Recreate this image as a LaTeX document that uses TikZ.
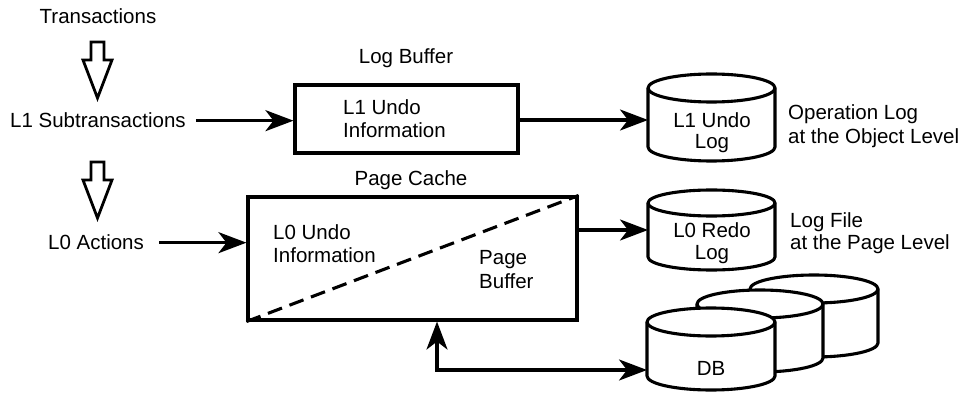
\documentclass[tikz,border=0pt]{standalone}
\usepackage{fontspec}
\setmainfont{Liberation Sans}
\usetikzlibrary{arrows.meta}
\newcommand\mycyl[5]{%
  \filldraw[cylfill] ({#1-#4},#2) -- ({#1-#4},#3) arc[start angle=180,end angle=360,x radius=#4,y radius=#5] -- ({#1+#4},#2) arc[start angle=0,end angle=180,x radius=#4,y radius=#5] -- cycle;
  \draw[lw] ({#1-#4},#2) arc[start angle=180,end angle=360,x radius=#4,y radius=#5];
}
\begin{document}
\begin{tikzpicture}[x=1pt,y=1pt,
  lw/.style={line width=3.1pt},
  txt/.style={font=\fontsize{20.5}{24}\selectfont, inner sep=0pt},
  box/.style={draw, line width=3.1pt, inner sep=0pt},
  tip/.tip={Stealth[length=28pt,width=21pt,inset=8pt]},
  conn/.style={line width=3.1pt, -tip},
  cylfill/.style={draw, line width=3.1pt, fill=white, line join=round},
  hollow/.style={draw, line width=2.8pt, line join=miter}
]
\useasboundingbox (0,0) rectangle (974,-395);

% left column
\node[txt, anchor=base] (trans) at (98,-24) {Transactions};
\node[txt, anchor=base west] (l1sub) at (10,-128) {L1 Subtransactions};
\node[txt, anchor=base west] (l0act) at (48,-250) {L0 Actions};
\draw[hollow] (91,-42) -- (104,-42) -- (104,-60) -- (112,-60) -- (97.5,-98) -- (83,-60) -- (91,-60) -- cycle;
\draw[hollow] (91,-162) -- (104,-162) -- (104,-180) -- (112,-180) -- (97.5,-218) -- (83,-180) -- (91,-180) -- cycle;

% log buffer
\node[txt, anchor=base] (lblogbuf) at (406,-64) {Log Buffer};
\node[box, minimum width=223pt, minimum height=68pt] (logbuf) at (406.5,-119) {};
\node[txt, anchor=base west] (l1ua) at (343,-115) {L1 Undo};
\node[txt, anchor=base west] (l1ub) at (343,-138) {Information};

% page cache
\node[txt, anchor=base] (lbpc) at (411,-186) {Page Cache};
\node[box, minimum width=329pt, minimum height=123pt] (pc) at (412.5,-258.5) {};
\draw[lw, dash pattern=on 15pt off 8pt] (pc.south west) -- (pc.north east);
\node[txt, anchor=base west] (l0ua) at (273,-240) {L0 Undo};
\node[txt, anchor=base west] (l0ub) at (273,-263) {Information};
\node[txt, anchor=base west] (pba) at (479,-265) {Page};
\node[txt, anchor=base west] (pbb) at (479,-288) {Buffer};

% cylinders
\mycyl{711.5}{-88}{-147}{63.5}{14}
\node[txt, anchor=base] (c1a) at (712,-128) {L1 Undo};
\node[txt, anchor=base] (c1b) at (712,-149) {Log};
\coordinate (c1w) at (648,-120);

\mycyl{711.5}{-203}{-257}{63.5}{13}
\node[txt, anchor=base] (c2a) at (712,-238) {L0 Redo};
\node[txt, anchor=base] (c2b) at (712,-260) {Log};
\coordinate (c2w) at (648,-230);

\mycyl{814}{-289}{-343}{64}{14}
\mycyl{760}{-304}{-358}{63}{14}
\mycyl{711}{-322}{-376}{64}{14}
\node[txt, anchor=base] (db) at (711,-375) {DB};
\coordinate (dbw) at (647,-370);
\coordinate (corner) at (437,-370);

% side notes
\node[txt, anchor=base west] (opa) at (788,-120) {Operation Log};
\node[txt, anchor=base west] (opb) at (788,-144) {at the Object Level};
\node[txt, anchor=base west] (lfa) at (790,-228) {Log File};
\node[txt, anchor=base west] (lfb) at (790,-250) {at the Page Level};

% connectors
\draw[conn, shorten <=10pt] (l1sub.east) -- (l1sub.east -| logbuf.west);
\draw[conn] (logbuf.east |- c1w) -- (c1w);
\draw[conn, shorten <=15pt] (l0act.east) -- (l0act.east -| pc.west);
\draw[conn] (pc.east |- c2w) -- (c2w);
\draw[line width=3.1pt, tip-tip] (pc.south -| corner) -- (corner) -- (dbw);
\end{tikzpicture}
\end{document}
